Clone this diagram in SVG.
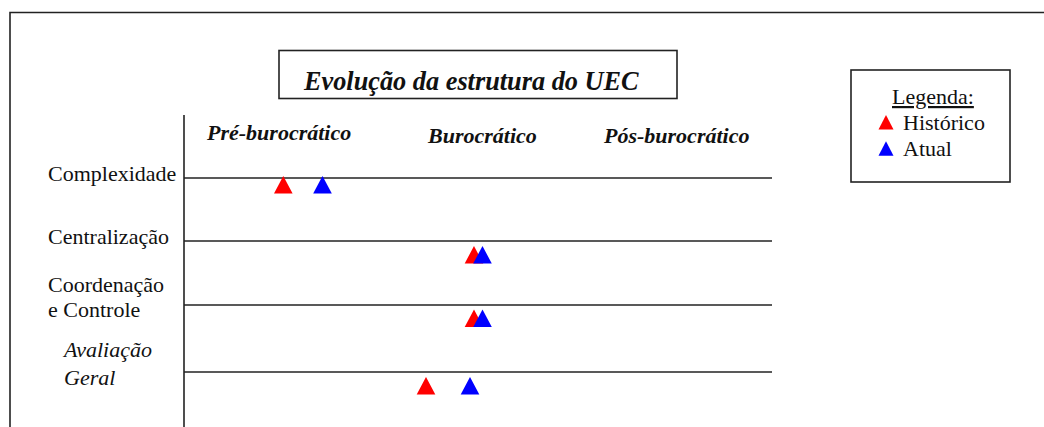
<svg xmlns="http://www.w3.org/2000/svg" width="1044" height="427" viewBox="0 0 1044 427">
<style>
text{font-family:"Liberation Serif","Times New Roman","DejaVu Serif",serif;fill:#111}
.lbl{font-size:22px}
.hdr{font-size:22px;font-weight:bold;font-style:italic}
.ttl{font-size:26.3px;font-weight:bold;font-style:italic}
.it{font-size:22px;font-style:italic}
.ln{stroke:#222;stroke-width:1.6;fill:none}
.box{stroke:#222;stroke-width:1.6;fill:#fff}
.h{fill:#ff0000}
.a{fill:#0000ff}
</style>
<defs>
<path id="tri" d="M0,-17.5 L9.3,0 L-9.3,0 Z"/>
<path id="tris" d="M0,-14.5 L7.5,0 L-7.5,0 Z"/>
</defs>
<rect width="1044" height="427" fill="#fff"/>
<path class="ln" d="M10,427 V12.5 H1044"/>
<g id="title">
<rect class="box" x="279" y="50.5" width="398" height="48"/>
<text class="ttl" x="304" y="90">Evolução da estrutura do UEC</text>
</g>
<g id="axes">
<line class="ln" x1="184" y1="115" x2="184" y2="427"/>
<line class="ln" x1="184" y1="178" x2="772" y2="178"/>
<line class="ln" x1="184" y1="241" x2="772" y2="241"/>
<line class="ln" x1="184" y1="305" x2="772" y2="305"/>
<line class="ln" x1="184" y1="372" x2="772" y2="372"/>
</g>
<g id="headers">
<text class="hdr" x="207" y="140">Pré-burocrático</text>
<text class="hdr" x="428" y="143">Burocrático</text>
<text class="hdr" x="604" y="143">Pós-burocrático</text>
</g>
<g id="rows">
<text class="lbl" x="48" y="181">Complexidade</text>
<text class="lbl" x="48" y="244">Centralização</text>
<text class="lbl" x="48" y="292">Coordenação</text>
<text class="lbl" x="48" y="317">e Controle</text>
<text class="it" x="64" y="357">Avaliação</text>
<text class="it" x="64" y="385">Geral</text>
</g>
<g id="markers">
<use href="#tri" class="h" x="283.3" y="193.5"/>
<use href="#tri" class="a" x="322.5" y="193.5"/>
<use href="#tri" class="h" x="474" y="263.5"/>
<use href="#tri" class="a" x="482.5" y="263.5"/>
<use href="#tri" class="h" x="474" y="327"/>
<use href="#tri" class="a" x="482.5" y="327"/>
<use href="#tri" class="h" x="426" y="394.5"/>
<use href="#tri" class="a" x="470" y="394.5"/>
</g>
<g id="legend">
<rect class="box" x="851" y="70" width="159" height="112"/>
<text class="lbl" x="892" y="104" text-decoration="underline">Legenda:</text>
<use href="#tris" class="h" x="886" y="129.5"/>
<text class="lbl" x="903" y="130">Histórico</text>
<use href="#tris" class="a" x="886" y="155.7"/>
<text class="lbl" x="903" y="156">Atual</text>
</g>
</svg>
